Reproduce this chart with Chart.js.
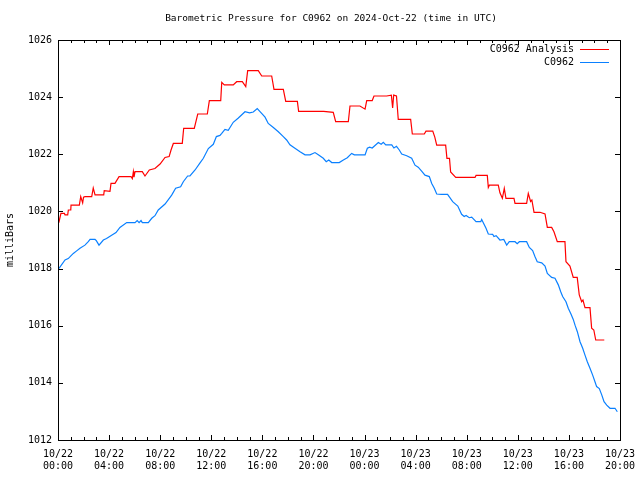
<!DOCTYPE html>
<html>
<head>
<meta charset="utf-8">
<script src="https://cdn.jsdelivr.net/npm/chart.js@4"></script>
<style>
  body { margin: 0; background: #fff; }
  canvas { display: block; }
</style>
</head>
<body>
<canvas id="pressure" width="640" height="480"></canvas>
<script>
// hours since 2024-10-22 00:00 UTC, pressure in mb
const analysisHours = [0.05, 0.08, 0.23, 0.5, 0.55, 0.76, 0.81, 1.0, 1.02, 1.67, 1.78, 1.93, 2.0, 2.11, 2.64, 2.76, 2.9, 3.58, 3.62, 4.07, 4.15, 4.46, 4.78, 5.72, 5.82, 5.9, 5.95, 6.03, 6.6, 6.81, 7.15, 7.59, 7.99, 8.38, 8.7, 8.85, 9.03, 9.73, 9.84, 10.67, 10.94, 11.69, 11.85, 12.74, 12.82, 13.02, 13.72, 13.99, 14.43, 14.7, 14.85, 15.68, 15.95, 16.73, 16.91, 17.64, 17.83, 18.74, 18.84, 20.8, 21.55, 21.74, 22.73, 22.86, 23.64, 24.04, 24.17, 24.6, 24.74, 25.73, 26.1, 26.2, 26.28, 26.5, 26.64, 27.61, 27.74, 28.68, 28.81, 29.34, 29.5, 29.65, 30.35, 30.45, 30.65, 30.74, 31.14, 32.65, 32.73, 33.61, 33.69, 33.77, 34.47, 34.6, 34.79, 34.94, 35.07, 35.7, 35.78, 36.69, 36.82, 37.0, 37.1, 37.27, 37.74, 38.13, 38.31, 38.65, 38.83, 39.09, 39.69, 39.77, 40.08, 40.34, 40.65, 40.81, 41.0, 41.1, 41.26, 41.65, 41.78, 41.95, 42.1, 42.77];
const analysisMb = [1019.6, 1019.64, 1019.93, 1019.93, 1019.88, 1019.88, 1020.05, 1020.05, 1020.22, 1020.22, 1020.52, 1020.3, 1020.5, 1020.52, 1020.52, 1020.82, 1020.58, 1020.58, 1020.73, 1020.7, 1020.98, 1020.98, 1021.22, 1021.22, 1021.15, 1021.39, 1021.2, 1021.39, 1021.39, 1021.24, 1021.45, 1021.5, 1021.66, 1021.89, 1021.92, 1022.15, 1022.38, 1022.38, 1022.91, 1022.91, 1023.41, 1023.41, 1023.88, 1023.88, 1024.52, 1024.43, 1024.43, 1024.54, 1024.54, 1024.37, 1024.93, 1024.93, 1024.74, 1024.74, 1024.27, 1024.27, 1023.85, 1023.85, 1023.5, 1023.5, 1023.47, 1023.14, 1023.14, 1023.69, 1023.69, 1023.58, 1023.88, 1023.88, 1024.04, 1024.04, 1024.07, 1023.62, 1024.07, 1024.04, 1023.22, 1023.22, 1022.71, 1022.71, 1022.81, 1022.81, 1022.6, 1022.32, 1022.32, 1021.86, 1021.86, 1021.38, 1021.19, 1021.19, 1021.26, 1021.26, 1020.84, 1020.92, 1020.92, 1020.65, 1020.46, 1020.81, 1020.46, 1020.46, 1020.28, 1020.28, 1020.63, 1020.35, 1020.4, 1019.97, 1019.97, 1019.91, 1019.44, 1019.44, 1019.29, 1018.94, 1018.94, 1018.24, 1018.09, 1017.69, 1017.69, 1017.08, 1016.84, 1016.9, 1016.63, 1016.63, 1015.91, 1015.85, 1015.5, 1015.5];

const stationHours = [0.08, 0.55, 0.8, 1.2, 1.46, 1.72, 2.11, 2.37, 2.51, 2.9, 3.0, 3.21, 3.55, 3.8, 4.2, 4.54, 4.85, 5.38, 6.03, 6.2, 6.35, 6.5, 6.6, 7.07, 7.34, 7.59, 7.85, 8.38, 8.9, 9.21, 9.6, 9.81, 10.15, 10.33, 10.73, 11.12, 11.38, 11.77, 12.16, 12.4, 12.68, 12.82, 13.07, 13.33, 13.72, 14.12, 14.64, 15.0, 15.29, 15.6, 15.8, 16.21, 16.46, 16.86, 17.25, 17.64, 17.9, 18.16, 18.55, 18.95, 19.34, 19.73, 20.12, 20.38, 20.77, 21.0, 21.2, 21.43, 22.02, 22.34, 22.65, 22.99, 23.2, 24.04, 24.22, 24.4, 24.6, 25.08, 25.3, 25.47, 25.66, 26.13, 26.3, 26.5, 26.72, 26.91, 27.3, 27.69, 27.95, 28.2, 28.47, 28.73, 29.07, 29.26, 29.46, 29.65, 30.0, 30.5, 30.9, 31.3, 31.6, 31.8, 31.95, 32.2, 32.39, 32.73, 33.1, 33.17, 33.51, 33.69, 34.03, 34.13, 34.3, 34.6, 34.9, 35.13, 35.33, 35.78, 35.95, 36.12, 36.69, 36.9, 37.16, 37.34, 37.52, 37.87, 38.13, 38.31, 38.65, 38.91, 39.17, 39.36, 39.51, 39.77, 39.95, 40.16, 40.34, 40.48, 40.66, 40.87, 41.08, 41.26, 41.44, 41.65, 41.86, 42.04, 42.17, 42.38, 42.57, 42.75, 42.96, 43.22, 43.61, 43.79];
const stationMb = [1018.01, 1018.3, 1018.35, 1018.53, 1018.62, 1018.71, 1018.82, 1018.94, 1019.02, 1019.02, 1018.98, 1018.82, 1019.0, 1019.05, 1019.17, 1019.26, 1019.44, 1019.61, 1019.61, 1019.68, 1019.61, 1019.68, 1019.61, 1019.61, 1019.76, 1019.85, 1020.05, 1020.26, 1020.57, 1020.81, 1020.86, 1021.04, 1021.24, 1021.24, 1021.45, 1021.7, 1021.86, 1022.2, 1022.35, 1022.62, 1022.66, 1022.73, 1022.87, 1022.84, 1023.12, 1023.27, 1023.49, 1023.45, 1023.48, 1023.6, 1023.5, 1023.3, 1023.08, 1022.94, 1022.79, 1022.62, 1022.5, 1022.33, 1022.21, 1022.09, 1021.98, 1021.98, 1022.06, 1021.98, 1021.86, 1021.74, 1021.8, 1021.71, 1021.71, 1021.8, 1021.88, 1022.03, 1021.98, 1021.98, 1022.21, 1022.25, 1022.22, 1022.41, 1022.35, 1022.42, 1022.33, 1022.33, 1022.22, 1022.28, 1022.15, 1022.01, 1021.95, 1021.86, 1021.62, 1021.55, 1021.41, 1021.27, 1021.22, 1020.98, 1020.81, 1020.61, 1020.6, 1020.6, 1020.34, 1020.19, 1019.9, 1019.82, 1019.86, 1019.78, 1019.8, 1019.64, 1019.64, 1019.72, 1019.41, 1019.21, 1019.2, 1019.12, 1019.15, 1019.0, 1019.02, 1018.82, 1018.94, 1018.94, 1018.87, 1018.94, 1018.94, 1018.74, 1018.63, 1018.42, 1018.24, 1018.2, 1018.09, 1017.83, 1017.69, 1017.66, 1017.43, 1017.19, 1017.02, 1016.84, 1016.61, 1016.41, 1016.22, 1016.02, 1015.79, 1015.44, 1015.21, 1014.97, 1014.74, 1014.51, 1014.27, 1014.04, 1013.87, 1013.8, 1013.58, 1013.34, 1013.22, 1013.11, 1013.11, 1012.99];

const tickDays = ['10/22', '10/22', '10/22', '10/22', '10/22', '10/22', '10/23', '10/23', '10/23', '10/23', '10/23', '10/23'];
const tickTimes = ['00:00', '04:00', '08:00', '12:00', '16:00', '20:00', '00:00', '04:00', '08:00', '12:00', '16:00', '20:00'];

const FONT = "'DejaVu Sans Mono', monospace";

const toPoints = (xs, ys) => xs.map((x, i) => ({ x, y: ys[i] }));

// gnuplot-ish frame: border, inward ticks, title, legend, y label
const framePlugin = {
    id: 'frame',
    afterDraw(chart) {
        const { ctx, chartArea: a, scales } = chart;
        const xs = scales.x, ys = scales.y;
        ctx.save();
        ctx.strokeStyle = '#000';
        ctx.lineWidth = 1;
        ctx.strokeRect(a.left + 0.5, a.top + 0.5, a.right - a.left, a.bottom - a.top);

        ctx.beginPath();
        for (let h = 0; h <= 44; h++) {
            const px = Math.round(xs.getPixelForValue(h)) + 0.5;
            const len = h % 4 === 0 ? 5 : 3;
            ctx.moveTo(px, a.bottom); ctx.lineTo(px, a.bottom - len);
            ctx.moveTo(px, a.top); ctx.lineTo(px, a.top + len);
        }
        for (let v = 1012; v <= 1026; v += 2) {
            const py = Math.round(ys.getPixelForValue(v)) + 0.5;
            ctx.moveTo(a.left, py); ctx.lineTo(a.left + 5, py);
            ctx.moveTo(a.right, py); ctx.lineTo(a.right - 5, py);
        }
        ctx.stroke();

        ctx.fillStyle = '#000';
        ctx.font = '9.5px ' + FONT;
        ctx.textAlign = 'center';
        ctx.textBaseline = 'middle';
        ctx.fillText('Barometric Pressure for C0962 on 2024-Oct-22 (time in UTC)', 331, 19);

        ctx.font = '10px ' + FONT;
        ctx.save();
        ctx.translate(10, 240);
        ctx.rotate(-Math.PI / 2);
        ctx.fillText('milliBars', 0, 0);
        ctx.restore();

        ctx.textAlign = 'right';
        chart.data.datasets.forEach((ds, i) => {
            const y = 49 + i * 13;
            ctx.fillStyle = '#000';
            ctx.fillText(ds.label, 574, y);
            ctx.strokeStyle = ds.borderColor;
            ctx.beginPath();
            ctx.moveTo(580, y + 0.5); ctx.lineTo(609, y + 0.5);
            ctx.stroke();
        });
        ctx.restore();
    }
};

new Chart(document.getElementById('pressure'), {
    type: 'line',
    data: {
        datasets: [
            { label: 'C0962 Analysis', data: toPoints(analysisHours, analysisMb), borderColor: '#ff0000', borderWidth: 1.2, pointRadius: 0, tension: 0 },
            { label: 'C0962', data: toPoints(stationHours, stationMb), borderColor: '#0a80ff', borderWidth: 1.2, pointRadius: 0, tension: 0 }
        ]
    },
    options: {
        responsive: false,
        animation: false,
        devicePixelRatio: 1,
        layout: { padding: { top: 40, right: 20, left: 0, bottom: 0 } },
        plugins: { legend: { display: false }, title: { display: false }, tooltip: { enabled: false } },
        scales: {
            x: {
                type: 'linear',
                min: 0,
                max: 44,
                afterFit(scale) {
                    scale.height = 40;
                    scale.paddingLeft = 0;
                    scale.paddingRight = 0;
                },
                grid: { display: false, drawTicks: false },
                border: { display: false },
                ticks: {
                    stepSize: 4,
                    padding: 8,
                    maxRotation: 0,
                    autoSkip: false,
                    color: '#000',
                    font: { family: FONT, size: 10 },
                    callback: (v) => [tickDays[v / 4], tickTimes[v / 4]]
                }
            },
            y: {
                min: 1012,
                max: 1026,
                afterFit(scale) {
                    scale.width = 58;
                    scale.paddingTop = 0;
                    scale.paddingBottom = 0;
                },
                grid: { display: false, drawTicks: false },
                border: { display: false },
                ticks: {
                    stepSize: 2,
                    padding: 6,
                    color: '#000',
                    font: { family: FONT, size: 10 },
                    callback: (v) => String(v)
                }
            }
        }
    },
    plugins: [framePlugin]
});
</script>
</body>
</html>
